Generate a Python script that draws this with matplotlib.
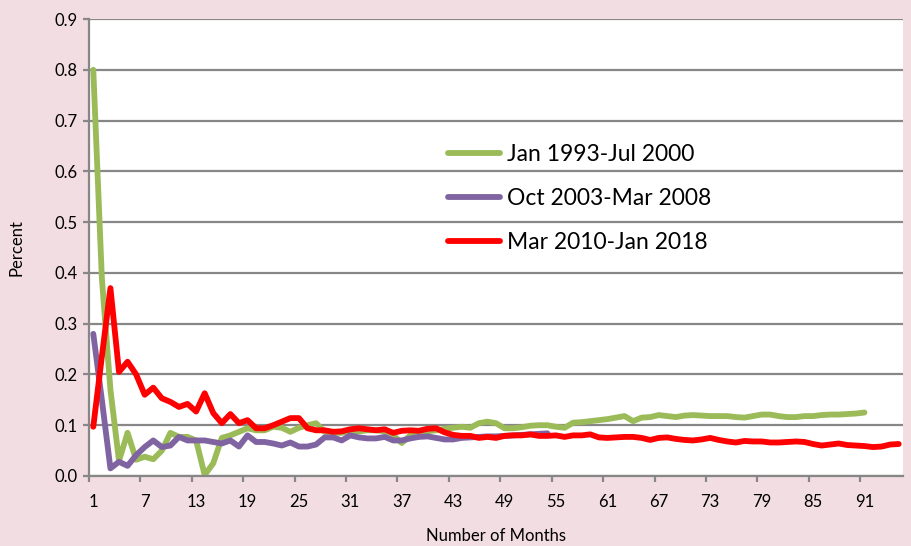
import numpy as np
import matplotlib
matplotlib.use("Agg")
import matplotlib.pyplot as plt
from matplotlib.ticker import MultipleLocator, FixedLocator

plt.rcParams['font.family'] = ['Lato', 'DejaVu Sans']

# Werte (Prozent pro Monat)
green_label = "Jan 1993-Jul 2000"
green = [0.80, 0.39, 0.17, 0.03, 0.085, 0.032, 0.038, 0.033, 0.05, 0.085,
         0.077, 0.077, 0.07, 0.002, 0.025, 0.075, 0.08, 0.087, 0.094, 0.09,
         0.09, 0.097, 0.095, 0.087, 0.095, 0.1, 0.104, 0.087, 0.085, 0.085,
         0.088, 0.088, 0.09, 0.09, 0.088, 0.08, 0.065, 0.08, 0.085, 0.088,
         0.09, 0.093, 0.095, 0.097, 0.095, 0.104, 0.107, 0.104, 0.094, 0.094,
         0.096, 0.099, 0.1, 0.1, 0.097, 0.095, 0.105, 0.106, 0.108, 0.11,
         0.112, 0.115, 0.118, 0.108, 0.115, 0.116, 0.12, 0.118, 0.116, 0.119,
         0.12, 0.119, 0.118, 0.118, 0.118, 0.116, 0.115, 0.118, 0.121, 0.121,
         0.118, 0.116, 0.116, 0.118, 0.118, 0.12, 0.121, 0.121, 0.122, 0.123,
         0.125]

purple_label = "Oct 2003-Mar 2008"
purple = [0.28, 0.15, 0.015, 0.028, 0.02, 0.041, 0.057, 0.07, 0.057, 0.06,
          0.077, 0.07, 0.07, 0.07, 0.067, 0.064, 0.07, 0.058, 0.08, 0.067,
          0.067, 0.064, 0.06, 0.066, 0.058, 0.058, 0.062, 0.076, 0.076, 0.07,
          0.08, 0.076, 0.074, 0.074, 0.077, 0.07, 0.07, 0.074, 0.077, 0.078,
          0.075, 0.072, 0.072, 0.075, 0.076, 0.077, 0.078, 0.078, 0.079, 0.08,
          0.081, 0.082, 0.083, 0.084]

red_label = "Mar 2010-Jan 2018"
red = [0.097, 0.235, 0.37, 0.205, 0.225, 0.2, 0.16, 0.174, 0.153, 0.146,
       0.136, 0.142, 0.127, 0.163, 0.124, 0.104, 0.122, 0.104, 0.11, 0.094,
       0.094, 0.1, 0.107, 0.114, 0.114, 0.094, 0.09, 0.09, 0.087, 0.088,
       0.092, 0.094, 0.092, 0.09, 0.092, 0.085, 0.089, 0.09, 0.089, 0.093,
       0.094, 0.086, 0.081, 0.079, 0.079, 0.075, 0.077, 0.075, 0.079, 0.08,
       0.08, 0.082, 0.079, 0.079, 0.08, 0.077, 0.08, 0.08, 0.082, 0.076,
       0.075, 0.076, 0.077, 0.077, 0.075, 0.071, 0.075, 0.076, 0.073, 0.071,
       0.07, 0.072, 0.075, 0.071, 0.068, 0.066, 0.069, 0.068, 0.068, 0.066,
       0.066, 0.067, 0.068, 0.067, 0.063, 0.06, 0.062, 0.064, 0.061, 0.06,
       0.059, 0.057, 0.058, 0.062, 0.063]

month_ticks = list(range(1, 92, 6))

fig = plt.figure(figsize=(9.11, 5.46), dpi=100)
fig.patch.set_facecolor('#F2DDE2')
ax = fig.add_axes([89 / 911, 1 - 476 / 546, 814 / 911, 457 / 546])
ax.set_facecolor('white')

ax.plot(np.arange(1, len(green) + 1), green, color='#9BBB59', lw=4.2,
        label=green_label, solid_joinstyle='round', solid_capstyle='round')
ax.plot(np.arange(1, len(purple) + 1), purple, color='#8064A2', lw=4.2,
        label=purple_label, solid_joinstyle='round', solid_capstyle='round')
ax.plot(np.arange(1, len(red) + 1), red, color='#FF0000', lw=4.2,
        label=red_label, solid_joinstyle='round', solid_capstyle='round')

ax.set_xlim(0.5, 95.5)
ax.set_ylim(0, 0.9)
ax.yaxis.set_major_locator(MultipleLocator(0.1))
ax.yaxis.set_major_formatter(matplotlib.ticker.FormatStrFormatter('%.1f'))
ax.grid(axis='y', color='#878787', lw=1.6)
ax.set_axisbelow(True)

ax.xaxis.set_major_locator(FixedLocator(month_ticks))
ax.xaxis.set_minor_locator(FixedLocator(np.arange(0.5, 96, 6)))
ax.tick_params(axis='x', which='major', length=0, pad=13, labelsize=12)
ax.tick_params(axis='x', which='minor', length=4, width=1.6, color='#878787')
ax.tick_params(axis='y', length=4, width=1.6, color='#878787', pad=4,
               labelsize=12)

for s in ['top', 'right']:
    ax.spines[s].set_visible(False)
for s in ['left', 'bottom']:
    ax.spines[s].set_color('#878787')
    ax.spines[s].set_linewidth(1.6)

ax.set_xlabel("Number of Months", fontsize=12, labelpad=13)
ax.set_ylabel("Percent", fontsize=12, labelpad=22)

leg = ax.legend(loc='upper left', bbox_to_anchor=(0.441, 0.726), frameon=False,
                fontsize=16.5, handlelength=2.27, handletextpad=0.3,
                labelspacing=1.0, borderaxespad=0, borderpad=0)

fig.savefig("out.png", dpi=100, facecolor=fig.get_facecolor())
